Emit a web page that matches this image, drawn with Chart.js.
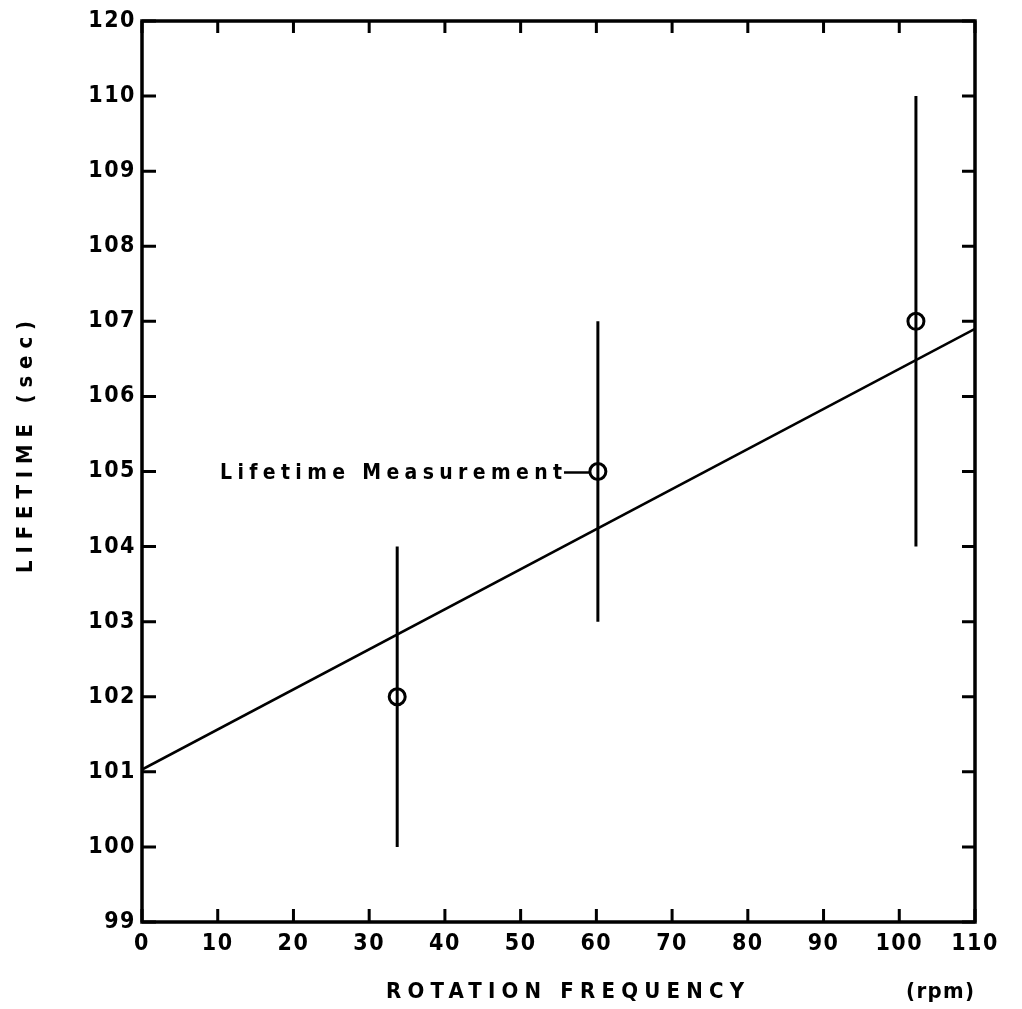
<!DOCTYPE html>
<html>
<head>
<meta charset="utf-8">
<script src="https://cdn.jsdelivr.net/npm/chart.js@4/dist/chart.umd.min.js"></script>
<style>
  html, body { margin: 0; padding: 0; background: #fff; }
  #wrap { width: 1022px; height: 1009px; }
</style>
</head>
<body>
<div id="wrap"><canvas id="c" width="1022" height="1009"></canvas></div>
<script>
// ---- data ----
const freqRpm = [33.7, 60.2, 102.2];
const lifetimeSec = [102, 105, 107];
const errLow = [100, 103, 104];
const errHigh = [104, 107, 110];
const fitFreq = [0, 110];
const fitLifetime = [101.03, 106.9];
const xTickValues = [0, 10, 20, 30, 40, 50, 60, 70, 80, 90, 100, 110];
const yTickValues = [99, 100, 101, 102, 103, 104, 105, 106, 107, 108, 109, 110, 111];
const yTickLabels = ['99', '100', '101', '102', '103', '104', '105', '106', '107', '108', '109', '110', '120'];
const xTitle = 'ROTATION FREQUENCY';
const xUnit = '(rpm)';
const yTitle = 'LIFETIME (sec)';
const noteText = 'Lifetime Measurement';
const noteIndex = 1;

const FONT = '"DejaVu Sans Condensed", "DejaVu Sans", sans-serif';

const datasets = [];
datasets.push({
  type: 'line',
  data: fitFreq.map((x, i) => ({ x, y: fitLifetime[i] })),
  borderColor: '#000', borderWidth: 2.6, pointRadius: 0, fill: false, tension: 0
});
freqRpm.forEach((x, i) => {
  datasets.push({
    type: 'line',
    data: [{ x, y: errLow[i] }, { x, y: errHigh[i] }],
    borderColor: '#000', borderWidth: 3, pointRadius: 0, fill: false
  });
});
datasets.push({
  type: 'scatter',
  data: freqRpm.map((x, i) => ({ x, y: lifetimeSec[i] })),
  pointStyle: 'circle', pointRadius: 8, pointBorderWidth: 3,
  pointBackgroundColor: '#fff', pointBorderColor: '#000'
});

function spacedText(ctx, text, target) {
  ctx.letterSpacing = '0px';
  const w = ctx.measureText(text).width;
  const n = text.length;
  return n > 1 ? (target - w) / (n - 1) : 0;
}

const decor = {
  id: 'decor',
  beforeDraw(chart) {
    chart.ctx.letterSpacing = '1.5px';
  },
  afterDraw(chart) {
    const ctx = chart.ctx;
    const a = chart.chartArea;
    const xs = chart.scales.x, ys = chart.scales.y;
    ctx.save();
    ctx.strokeStyle = '#000';
    ctx.lineWidth = 3.5;
    ctx.strokeRect(a.left, a.top, a.right - a.left, a.bottom - a.top);
    ctx.lineWidth = 3;
    ctx.beginPath();
    yTickValues.forEach(v => {
      const py = ys.getPixelForValue(v);
      ctx.moveTo(a.left, py); ctx.lineTo(a.left + 14, py);
      ctx.moveTo(a.right, py); ctx.lineTo(a.right - 13, py);
    });
    xTickValues.forEach(v => {
      const px = xs.getPixelForValue(v);
      ctx.moveTo(px, a.bottom); ctx.lineTo(px, a.bottom - 13);
      ctx.moveTo(px, a.top); ctx.lineTo(px, a.top + 12);
    });
    ctx.stroke();

    // axis titles
    ctx.fillStyle = '#000';
    ctx.font = 'bold 22px ' + FONT;
    ctx.textBaseline = 'middle';
    ctx.textAlign = 'left';
    let sp = spacedText(ctx, xTitle, 358);
    ctx.letterSpacing = sp + 'px';
    ctx.fillText(xTitle, 386, 992);
    sp = spacedText(ctx, xUnit, 68);
    ctx.letterSpacing = sp + 'px';
    ctx.fillText(xUnit, 906, 992);

    ctx.save();
    ctx.translate(26, 573);
    ctx.rotate(-Math.PI / 2);
    sp = spacedText(ctx, yTitle, 252);
    ctx.letterSpacing = sp + 'px';
    ctx.fillText(yTitle, 0, 0);
    ctx.restore();

    // annotation
    const px = xs.getPixelForValue(freqRpm[noteIndex]);
    const py = ys.getPixelForValue(lifetimeSec[noteIndex]);
    ctx.font = 'bold 21px ' + FONT;
    sp = spacedText(ctx, noteText, 342);
    ctx.letterSpacing = sp + 'px';
    ctx.textAlign = 'left';
    ctx.fillText(noteText, 220, py + 2);
    ctx.lineWidth = 2.5;
    ctx.beginPath();
    ctx.moveTo(564, py + 1);
    ctx.lineTo(px - 8, py + 1);
    ctx.stroke();
    ctx.restore();
  }
};

new Chart(document.getElementById('c'), {
  type: 'scatter',
  data: { datasets },
  plugins: [decor],
  options: {
    responsive: false,
    animation: false,
    devicePixelRatio: 1,
    layout: { padding: { top: 21, right: 47, left: 0, bottom: 0 } },
    plugins: { legend: { display: false }, tooltip: { enabled: false } },
    scales: {
      x: {
        type: 'linear', min: 0, max: 110,
        afterBuildTicks: s => { s.ticks = xTickValues.map(v => ({ value: v })); },
        afterFit: s => { s.height = 87; },
        grid: { display: false, drawTicks: false },
        border: { display: false },
        ticks: { color: '#000', font: { family: FONT, size: 23, weight: 'bold' }, padding: 8, maxRotation: 0,
                 callback: v => String(v) }
      },
      y: {
        type: 'linear', min: 99, max: 111,
        afterBuildTicks: s => { s.ticks = yTickValues.map(v => ({ value: v })); },
        afterFit: s => { s.width = 142; },
        grid: { display: false, drawTicks: false },
        border: { display: false },
        ticks: { color: '#000', font: { family: FONT, size: 23, weight: 'bold' }, padding: 6,
                 callback: (v, i) => yTickLabels[i] }
      }
    }
  }
});
</script>
</body>
</html>
